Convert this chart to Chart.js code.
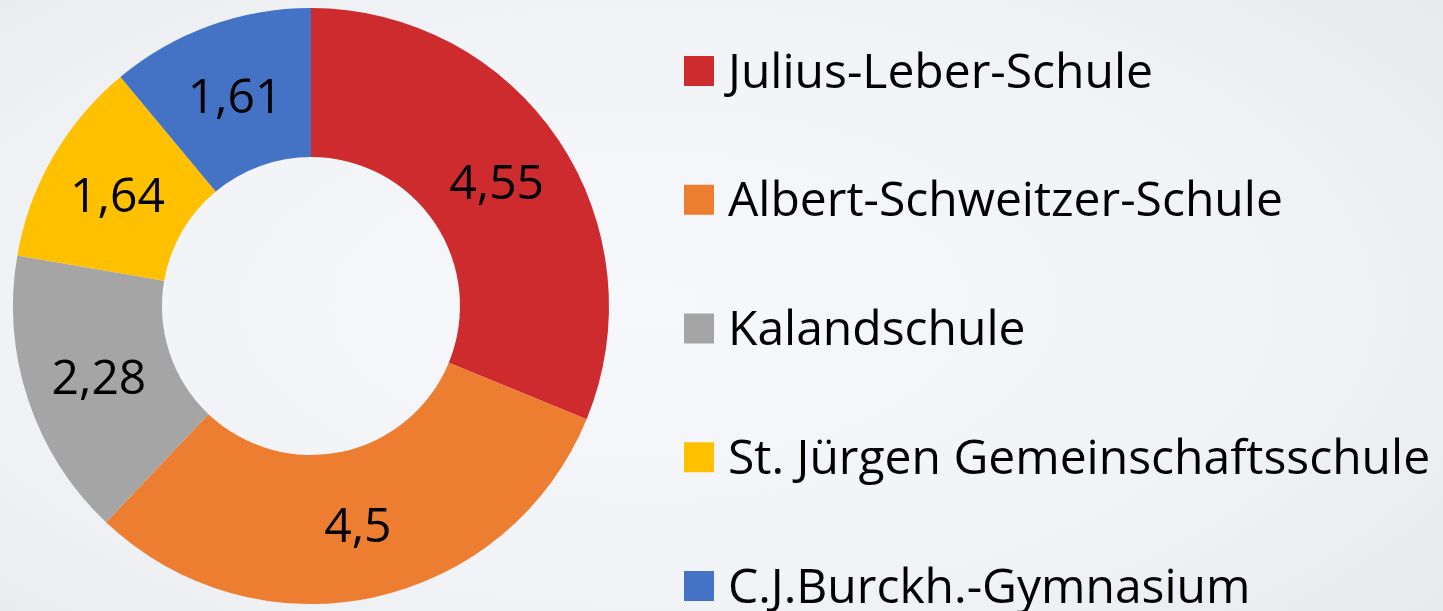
<!DOCTYPE html>
<html lang="de">
<head>
<meta charset="utf-8">
<title>Schulen</title>
<script src="https://cdn.jsdelivr.net/npm/chart.js@4.4.1/dist/chart.umd.min.js"></script>
<style>
  html, body { margin: 0; padding: 0; }
  body {
    width: 1443px; height: 611px; overflow: hidden;
    background: radial-gradient(ellipse 75% 85% at 45% 50%, #f6f8fb 0%, #f1f3f6 55%, #e7e8ea 100%);
  }
  #wrap { position: relative; width: 1443px; height: 611px; }
</style>
</head>
<body>
<div id="wrap"><canvas id="graficoSchulen"></canvas></div>
<script>
/* Doughnut (Chart.js) */

const schulen = ['Julius-Leber-Schule', 'Albert-Schweitzer-Schule', 'Kalandschule', 'St. Jürgen Gemeinschaftsschule', 'C.J.Burckh.-Gymnasium'];
const werte = [4.55, 4.5, 2.28, 1.64, 1.61];
const farben = ['#ce2b2e', '#ed7d31', '#a5a5a5', '#ffc000', '#4472c4'];

const SCHRIFT = '"Open Sans", sans-serif';
const GROESSE = 48;

const fmt = v => String(v).replace('.', ',');

// Werte mittig in die Segmente schreiben
const wertePlugin = {
  id: 'werteLabels',
  afterDatasetsDraw(chart) {
    const { ctx } = chart;
    const meta = chart.getDatasetMeta(0);
    ctx.save();
    ctx.font = `${GROESSE}px ${SCHRIFT}`;
    ctx.fillStyle = '#000';
    ctx.textAlign = 'center';
    ctx.textBaseline = 'middle';
    meta.data.forEach((arc, i) => {
      const p = arc.tooltipPosition();
      ctx.fillText(fmt(chart.data.datasets[0].data[i]), p.x, p.y + 4);
    });
    ctx.restore();
  }
};

// eigene Legende rechts, mit großem Zeilenabstand
const legendePlugin = {
  id: 'legendeRechts',
  afterDraw(chart) {
    const { ctx, chartArea } = chart;
    const ds = chart.data.datasets[0];
    const x0 = chartArea.right + 75;
    const yStart = 71, schritt = 128.75, box = 30;
    ctx.save();
    ctx.font = `${GROESSE}px ${SCHRIFT}`;
    ctx.textBaseline = 'middle';
    ctx.textAlign = 'left';
    chart.data.labels.forEach((lbl, i) => {
      const y = yStart + i * schritt;
      ctx.fillStyle = ds.backgroundColor[i];
      ctx.fillRect(x0, y - box / 2, box, box);
      ctx.fillStyle = '#000';
      ctx.fillText(lbl, x0 + box + 14, y + 3);
    });
    ctx.restore();
  }
};

const ctx = document.getElementById('graficoSchulen');

new Chart(ctx, {
  type: 'doughnut',
  data: {
    labels: schulen,
    datasets: [{
      data: werte,
      backgroundColor: farben,
      borderWidth: 0
    }]
  },
  options: {
    responsive: true,
    maintainAspectRatio: false,
    animation: false,
    cutout: '50%',
    layout: { padding: { left: 13, right: 834, top: 8, bottom: 7 } },
    plugins: {
      legend: { display: false },
      tooltip: { enabled: false }
    }
  },
  plugins: [wertePlugin, legendePlugin]
});
</script>
</body>
</html>
